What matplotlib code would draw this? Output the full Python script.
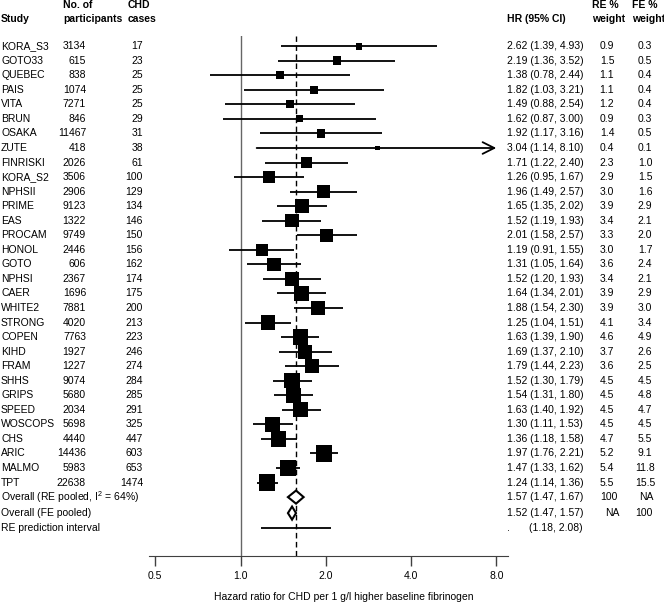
import numpy as np
import matplotlib.pyplot as plt
import matplotlib.transforms as mtransforms
from matplotlib.ticker import NullLocator

plt.rcParams['font.family'] = ['Liberation Sans', 'DejaVu Sans']
plt.rcParams['mathtext.fontset'] = 'custom'
plt.rcParams['mathtext.rm'] = 'Liberation Sans'

# study level data
studies = ['KORA_S3', 'GOTO33', 'QUEBEC', 'PAIS', 'VITA', 'BRUN', 'OSAKA', 'ZUTE',
           'FINRISKI', 'KORA_S2', 'NPHSII', 'PRIME', 'EAS', 'PROCAM', 'HONOL', 'GOTO',
           'NPHSI', 'CAER', 'WHITE2', 'STRONG', 'COPEN', 'KIHD', 'FRAM', 'SHHS',
           'GRIPS', 'SPEED', 'WOSCOPS', 'CHS', 'ARIC', 'MALMO', 'TPT']
participants = [3134, 615, 838, 1074, 7271, 846, 11467, 418, 2026, 3506, 2906, 9123,
                1322, 9749, 2446, 606, 2367, 1696, 7881, 4020, 7763, 1927, 1227, 9074,
                5680, 2034, 5698, 4440, 14436, 5983, 22638]
cases = [17, 23, 25, 25, 25, 29, 31, 38, 61, 100, 129, 134, 146, 150, 156, 162, 174,
         175, 200, 213, 223, 246, 274, 284, 285, 291, 325, 447, 603, 653, 1474]
hr = [2.62, 2.19, 1.38, 1.82, 1.49, 1.62, 1.92, 3.04, 1.71, 1.26, 1.96, 1.65, 1.52,
      2.01, 1.19, 1.31, 1.52, 1.64, 1.88, 1.25, 1.63, 1.69, 1.79, 1.52, 1.54, 1.63,
      1.30, 1.36, 1.97, 1.47, 1.24]
ci_lo = [1.39, 1.36, 0.78, 1.03, 0.88, 0.87, 1.17, 1.14, 1.22, 0.95, 1.49, 1.35, 1.19,
         1.58, 0.91, 1.05, 1.20, 1.34, 1.54, 1.04, 1.39, 1.37, 1.44, 1.30, 1.31, 1.40,
         1.11, 1.18, 1.76, 1.33, 1.14]
ci_hi = [4.93, 3.52, 2.44, 3.21, 2.54, 3.00, 3.16, 8.10, 2.40, 1.67, 2.57, 2.02, 1.93,
         2.57, 1.55, 1.64, 1.93, 2.01, 2.30, 1.51, 1.90, 2.10, 2.23, 1.79, 1.80, 1.92,
         1.53, 1.58, 2.21, 1.62, 1.36]
re_weight = [0.9, 1.5, 1.1, 1.1, 1.2, 0.9, 1.4, 0.4, 2.3, 2.9, 3.0, 3.9, 3.4, 3.3, 3.0,
             3.6, 3.4, 3.9, 3.9, 4.1, 4.6, 3.7, 3.6, 4.5, 4.5, 4.5, 4.5, 4.7, 5.2, 5.4, 5.5]
fe_weight = [0.3, 0.5, 0.4, 0.4, 0.4, 0.3, 0.5, 0.1, 1.0, 1.5, 1.6, 2.9, 2.1, 2.0, 1.7,
             2.4, 2.1, 2.9, 3.0, 3.4, 4.9, 2.6, 2.5, 4.5, 4.8, 4.7, 4.5, 5.5, 9.1, 11.8, 15.5]

# pooled results
re_pooled = [1.57, 1.47, 1.67]
fe_pooled = [1.52, 1.47, 1.57]
pred_interval = [1.18, 2.08]
i_squared = 64

tick_vals = [0.5, 1, 2, 4, 8]
tick_labels = ['0.5', '1.0', '2.0', '4.0', '8.0']

W, H = 664, 602
FS = 7.5
fig = plt.figure(figsize=(W / 100, H / 100), dpi=100)
ax = fig.add_axes([149 / W, 46 / H, 359 / W, (556 - 36) / H])
ax.set_xscale('log', base=2)
ax.set_xlim(0.475, 8.8)
ax.set_ylim(35.05, -0.7)

n = len(studies)
y = np.arange(n)
y_re, y_fe, y_pred = 31.0, 32.1, 33.1
xmax_arrow = 8

# reference lines
ax.axvline(1, color='0.4', lw=1, zorder=1)
ax.axvline(re_pooled[0], color='black', lw=1, ls=(0, (4, 2.5)), zorder=1)

# confidence intervals
for i in range(n):
    if ci_hi[i] > xmax_arrow:
        ax.annotate('', xy=(xmax_arrow, y[i]), xytext=(ci_lo[i], y[i]),
                    arrowprops=dict(arrowstyle='->,head_length=0.7,head_width=0.35',
                                    lw=1.3, color='black', shrinkA=0, shrinkB=0,
                                    mutation_scale=12))
    else:
        ax.hlines(y[i], ci_lo[i], ci_hi[i], color='black', lw=1.3, zorder=2)

# boxes sized by RE weight
ax.scatter(hr, y, s=27 * np.array(re_weight), marker='s', color='black',
           linewidths=0, zorder=3)

# pooled diamonds
h = 0.45
for est, lo, hi_, yy in [(re_pooled[0], re_pooled[1], re_pooled[2], y_re),
                         (fe_pooled[0], fe_pooled[1], fe_pooled[2], y_fe)]:
    ax.fill([lo, est, hi_, est], [yy, yy - h, yy, yy + h], fc='white', ec='black',
            lw=1.5, zorder=3)

ax.hlines(y_pred, pred_interval[0], pred_interval[1], color='black', lw=1.3)

# axis styling
for s in ['left', 'right', 'top']:
    ax.spines[s].set_visible(False)
ax.spines['bottom'].set_color('0.25')
ax.set_yticks([])
ax.set_xticks(tick_vals)
ax.set_xticklabels(tick_labels)
ax.xaxis.set_minor_locator(NullLocator())
ax.tick_params(axis='x', direction='out', length=7, width=1, color='0.25',
               labelsize=FS, pad=4)

fig.text(344 / W, 1 - 597 / H, 'Hazard ratio for CHD per 1 g/l higher baseline fibrinogen',
         ha='center', va='center', fontsize=FS)

# text columns
tr = mtransforms.blended_transform_factory(fig.transFigure, ax.transData)


def txt(px, row, s, ha='left', bold=False):
    ax.text(px / W, row, s, transform=tr, ha=ha, va='center', fontsize=FS,
            fontweight='bold' if bold else 'normal', clip_on=False)


r1, r2 = -2.82, -1.86
txt(1, r2, 'Study', bold=True)
txt(63, r1, 'No. of', bold=True)
txt(63, r2, 'participants', bold=True)
txt(128, r1, 'CHD', bold=True)
txt(128, r2, 'cases', bold=True)
txt(507, r2, 'HR (95% CI)', bold=True)
txt(592, r1, 'RE %', bold=True)
txt(592, r2, 'weight', bold=True)
txt(632, r1, 'FE %', bold=True)
txt(632, r2, 'weight', bold=True)

for i in range(n):
    txt(1, y[i], studies[i])
    txt(86, y[i], str(participants[i]), ha='right')
    txt(143, y[i], str(cases[i]), ha='right')
    txt(507, y[i], f'{hr[i]:.2f} ({ci_lo[i]:.2f}, {ci_hi[i]:.2f})')
    txt(607, y[i], f'{re_weight[i]:.1f}', ha='center')
    txt(645, y[i], f'{fe_weight[i]:.1f}', ha='center')

txt(1, y_re, 'Overall (RE pooled, I$^{2}$ = 64%)')
txt(507, y_re, f'{re_pooled[0]:.2f} ({re_pooled[1]:.2f}, {re_pooled[2]:.2f})')
txt(609, y_re, '100', ha='center')
txt(646, y_re, 'NA', ha='center')

txt(1, y_fe, 'Overall (FE pooled)')
txt(507, y_fe, f'{fe_pooled[0]:.2f} ({fe_pooled[1]:.2f}, {fe_pooled[2]:.2f})')
txt(612, y_fe, 'NA', ha='center')
txt(644, y_fe, '100', ha='center')

txt(1, y_pred, 'RE prediction interval')
txt(507, y_pred, '.')
txt(529, y_pred, f'({pred_interval[0]:.2f}, {pred_interval[1]:.2f})')

fig.savefig('out.png', dpi=100)
